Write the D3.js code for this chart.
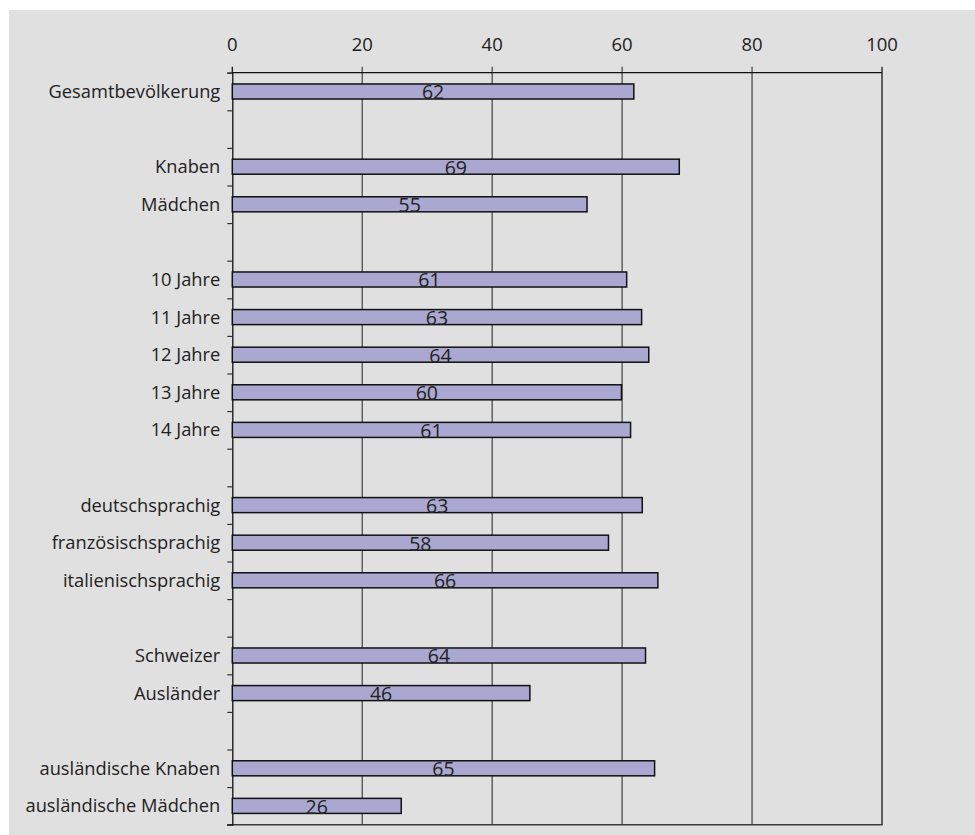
<!DOCTYPE html>
<html>
<head>
<meta charset="utf-8">
<script src="https://cdn.jsdelivr.net/npm/d3@7"></script>
<style>
  body { margin: 0; background: #ffffff; }
  svg { display: block; }
  text { font-family: "Open Sans", "Noto Sans", sans-serif; fill: #222; }
</style>
</head>
<body>
<svg id="chart" width="975" height="835"></svg>
<script>
// Categories (blank strings are spacer rows)
const categories = [
  "Gesamtbevölkerung", "",
  "Knaben", "Mädchen", "",
  "10 Jahre", "11 Jahre", "12 Jahre", "13 Jahre", "14 Jahre", "",
  "deutschsprachig", "französischsprachig", "italienischsprachig", "",
  "Schweizer", "Ausländer", "",
  "ausländische Knaben", "ausländische Mädchen"
];
const values = [
  61.8, null,
  68.8, 54.6, null,
  60.7, 63.0, 64.1, 59.9, 61.3, null,
  63.1, 57.9, 65.5, null,
  63.6, 45.8, null,
  65.0, 26.0
];
const xTicks = [0, 20, 40, 60, 80, 100];

const svg = d3.select("#chart");
const margin = { left: 232.3, right: 975 - 882, top: 72.7, bottom: 835 - 824.7 };
const W = 975, H = 835;

// background panel
svg.append("rect").attr("x", 9).attr("y", 10).attr("width", W - 9).attr("height", H - 10)
  .attr("fill", "#e0e0e0");

const x = d3.scaleLinear().domain([0, 100]).range([margin.left, W - margin.right]);
const idx = d3.range(categories.length);
const y = d3.scaleBand().domain(idx).range([margin.top, H - margin.bottom])
  .paddingInner(0.6).paddingOuter(0.3);
const rows = d3.scaleLinear().domain([0, categories.length]).range([margin.top, H - margin.bottom]);

// vertical grid lines (with small ticks above the top axis)
svg.append("g").selectAll("line").data(xTicks.slice(1, -1)).join("line")
  .attr("x1", d => x(d)).attr("x2", d => x(d))
  .attr("y1", margin.top - 6).attr("y2", H - margin.bottom)
  .attr("stroke", "#4d4d4d").attr("stroke-width", 1.3);

// right border (100)
svg.append("line")
  .attr("x1", x(100)).attr("x2", x(100))
  .attr("y1", margin.top - 6).attr("y2", H - margin.bottom)
  .attr("stroke", "#1a1a1a").attr("stroke-width", 1.3);

// bottom line
svg.append("line")
  .attr("x1", x(0) - 5).attr("x2", x(100) + 0.6)
  .attr("y1", H - margin.bottom).attr("y2", H - margin.bottom)
  .attr("stroke", "#3a3a3a").attr("stroke-width", 1.6);

// top axis line
svg.append("line")
  .attr("x1", x(0)).attr("x2", x(100))
  .attr("y1", margin.top).attr("y2", margin.top)
  .attr("stroke", "#111").attr("stroke-width", 1.2);

// top tick labels
svg.append("g").selectAll("text").data(xTicks).join("text")
  .attr("x", d => x(d)).attr("y", margin.top - 22)
  .attr("text-anchor", "middle").attr("font-size", 18.5)
  .text(d => d);

// left axis with ticks at row boundaries
const leftAxis = d3.axisLeft(rows).tickValues(d3.range(0, categories.length + 1))
  .tickSize(5).tickFormat("");
const gl = svg.append("g").attr("transform", `translate(${x(0)},0)`).call(leftAxis);
gl.select(".domain").attr("stroke", "#111").attr("stroke-width", 1.3);
gl.selectAll(".tick line").attr("stroke", "#333").attr("stroke-width", 1.2);
svg.append("line")
  .attr("x1", x(0)).attr("x2", x(0))
  .attr("y1", margin.top - 6).attr("y2", margin.top)
  .attr("stroke", "#111").attr("stroke-width", 1.3);

// category labels
svg.append("g").selectAll("text").data(idx.filter(i => categories[i] !== "")).join("text")
  .attr("x", x(0) - 12).attr("y", i => y(i) + y.bandwidth() / 2)
  .attr("dy", "0.35em")
  .attr("text-anchor", "end").attr("font-size", 18.3)
  .text(i => categories[i]);

// bars
const barIdx = idx.filter(i => values[i] !== null);
svg.append("g").selectAll("rect").data(barIdx).join("rect")
  .attr("x", x(0)).attr("y", i => y(i))
  .attr("width", i => x(values[i]) - x(0)).attr("height", y.bandwidth())
  .attr("fill", "#aaa8d0").attr("stroke", "#111").attr("stroke-width", 1.5);

// value labels
svg.append("g").selectAll("text").data(barIdx).join("text")
  .attr("x", i => (x(0) + x(values[i])) / 2)
  .attr("y", i => y(i) + y.bandwidth() / 2 + 7.8)
  .attr("text-anchor", "middle").attr("font-size", 19.5)
  .text(i => Math.round(values[i]));
</script>
</body>
</html>
